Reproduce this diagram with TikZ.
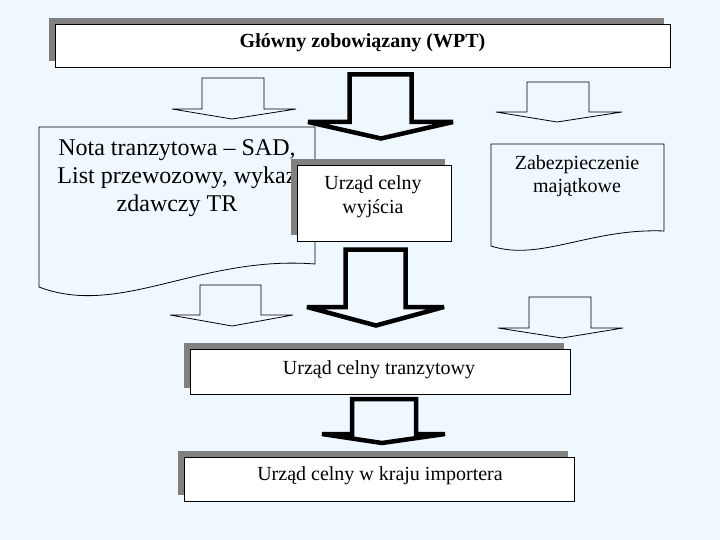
\documentclass[tikz,border=0pt]{standalone}
\usepackage{fontspec}
\setmainfont{Liberation Serif}
\usetikzlibrary{shadows}
\definecolor{bg}{RGB}{240,248,255}
\definecolor{shadowgray}{RGB}{128,128,128}
\tikzset{
  box/.style={rectangle, draw=black, line width=0.8pt, fill=white, inner sep=0pt,
    general shadow={fill=shadowgray, shadow xshift=-6pt, shadow yshift=6pt}},
  docshape/.style={draw=black, line width=0.8pt},
  hollowarrow/.style={draw=black, line width=0.8pt, line join=miter},
  thickarrow/.style={draw=black, line width=4.5pt, line join=miter, miter limit=3},
  txt/.style={font=\fontsize{20}{24}\selectfont, align=center, inner sep=0pt},
}
\begin{document}
\begin{tikzpicture}[x=1pt,y=-1pt]
\fill[bg] (0,0) rectangle (720,540);
\useasboundingbox (0,0) rectangle (720,540);

% top box
\node[box, minimum width=615pt, minimum height=43pt] (wpt) at (362.5,45.5) {};
\node[font=\bfseries\fontsize{20}{24}\selectfont, inner sep=0pt, anchor=base] (wpttxt) at (362.5,48) {Główny zobowiązany (WPT)};

% top hollow arrows
\draw[hollowarrow] (202,78) -- (202,109) -- (172,109) -- (232,119) -- (296,109) -- (264,109) -- (264,78) -- cycle;
\draw[hollowarrow] (527,82) -- (527,112) -- (496,112) -- (557,122) -- (622,112) -- (589,112) -- (589,82) -- cycle;

% document: Nota
\draw[docshape] (39,127) -- (315,127) -- (315,264) .. controls (200,255) and (120,318) .. (39,287) -- cycle;
\node[font=\fontsize{24}{28}\selectfont, align=center, inner sep=0pt] (nota) at (177,178.5)
  {Nota tranzytowa – SAD,\\List przewozowy, wykaz\\zdawczy TR};

% document: Zabezpieczenie
\draw[docshape] (491,144) -- (664,144) -- (664,231) .. controls (590,228) and (540,262) .. (491,246) -- cycle;
\node[txt, font=\fontsize{20}{23}\selectfont] (zab) at (577,176) {Zabezpieczenie\\majątkowe};

% Urzad celny wyjscia
\node[box, minimum width=154pt, minimum height=76pt] (wyj) at (374,203) {};
\node[txt] (wyjtxt) at (373,196.5) {Urząd celny\\wyjścia};

% middle thick arrow 1
\draw[thickarrow] (349.5,74.5) -- (349.5,122) -- (308,122) -- (381,138.5) -- (453,122) -- (411.5,122) -- (411.5,74.5) -- cycle;

% second row arrows
\draw[hollowarrow] (200,285) -- (200,315) -- (170,315) -- (232,326) -- (293,315) -- (261,315) -- (261,285) -- cycle;
\draw[hollowarrow] (529,297) -- (529,328) -- (498,328) -- (562,338) -- (623,328) -- (591,328) -- (591,297) -- cycle;
\draw[thickarrow] (345.5,249.5) -- (345.5,307) -- (307,307) -- (376,325.5) -- (444,307) -- (405.5,307) -- (405.5,249.5) -- cycle;

% tranzytowy
\node[box, minimum width=380pt, minimum height=45pt] (tr) at (380,371.5) {};
\node[txt, anchor=base] (trtxt) at (379,374) {Urząd celny tranzytowy};

% bottom thick arrow
\draw[thickarrow] (352,399) -- (352,434) -- (322,434) -- (382,443) -- (445,434) -- (416,434) -- (416,399) -- cycle;

% importer
\node[box, minimum width=390pt, minimum height=44pt] (imp) at (379,479) {};
\node[txt] (imptxt) at (380,475.5) {Urząd celny w kraju importera};
\end{tikzpicture}
\end{document}
